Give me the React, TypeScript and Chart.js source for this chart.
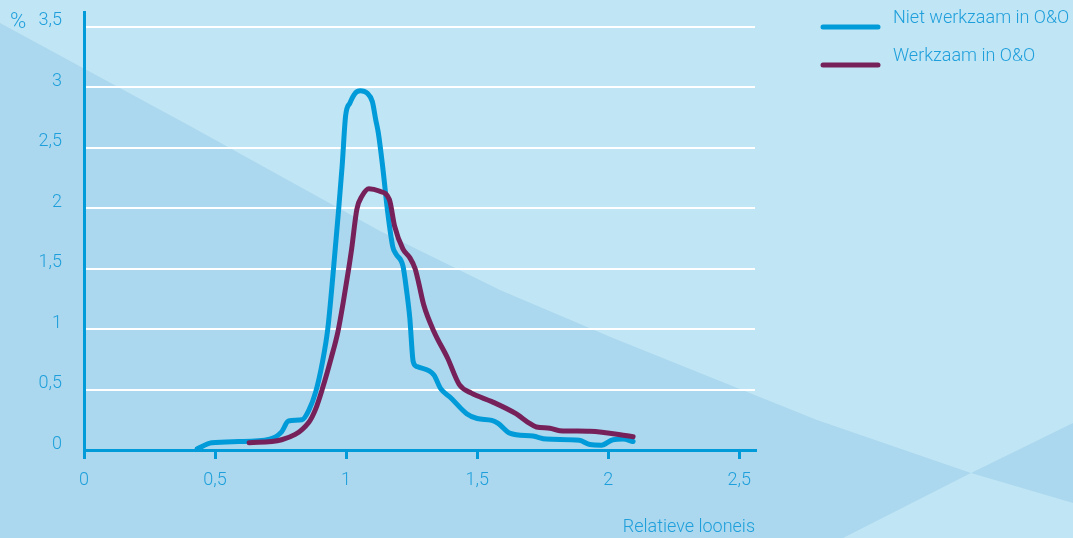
import { useEffect, useRef } from "react";
import { Chart, registerables } from "chart.js";

Chart.register(...registerables);

// ---- Data ----
const nietX = [
  0.432, 0.487, 0.59, 0.708, 0.754, 0.78, 0.832, 0.858, 0.884, 0.91, 0.93, 0.95, 0.97, 0.985, 0.998,
  1.015, 1.035, 1.054, 1.08, 1.1, 1.113, 1.123, 1.139, 1.159, 1.178, 1.19, 1.217, 1.23, 1.243, 1.256,
  1.27, 1.335, 1.36, 1.4, 1.46, 1.5, 1.556, 1.58, 1.624, 1.713, 1.764, 1.89, 1.93, 1.974, 2.018, 2.056,
  2.095,
];
const nietY = [
  0.01, 0.06, 0.07, 0.09, 0.15, 0.24, 0.25, 0.33, 0.48, 0.73, 1.0, 1.45, 1.95, 2.35, 2.76,
  2.87, 2.95, 2.97, 2.95, 2.88, 2.73, 2.62, 2.35, 1.96, 1.68, 1.62, 1.52, 1.33, 1.09, 0.73,
  0.69, 0.62, 0.51, 0.43, 0.3, 0.26, 0.245, 0.22, 0.14, 0.115, 0.09, 0.08, 0.045, 0.04, 0.085, 0.09,
  0.07,
];
const werkX = [
  0.63, 0.754, 0.858, 0.884, 0.91, 0.943, 0.969, 0.989, 1.01, 1.021, 1.041, 1.061, 1.087, 1.126, 1.165,
  1.185, 1.217, 1.243, 1.263, 1.276, 1.296, 1.335, 1.387, 1.432, 1.478, 1.556, 1.648, 1.7, 1.726, 1.777,
  1.815, 1.93, 2.095,
];
const werkY = [
  0.06, 0.085, 0.23, 0.34, 0.51, 0.76, 0.98, 1.22, 1.5, 1.66, 1.99, 2.1, 2.16, 2.14, 2.07,
  1.85, 1.66, 1.59, 1.5, 1.39, 1.2, 0.98, 0.76, 0.54, 0.47, 0.4, 0.3, 0.22, 0.19, 0.18,
  0.16, 0.155, 0.11,
];
const seriesLabels = ["Niet werkzaam in O&O", "Werkzaam in O&O"];
const yUnit = "%";
const xTitle = "Relatieve looneis";

// ---- Styles ----
const BLUE = "#009bd8";
const PURPLE = "#76215a";
const TEXT = "#1e9fdb";
const LIGHT = "#c0e5f5";
const DARK = "#abd8ee";
const FAMILY = "Roboto";
const tickFont = { family: FAMILY, size: 18, weight: "300" as const };

const fmt = (v: number | string) => String(Number(v)).replace(".", ",");

// background shapes (pixel positions on the 1073x538 canvas, scaled to size)
const shapeA = [
  [0, 23], [190, 126], [380, 231], [500, 290], [613, 338], [700, 373], [817, 420], [971, 473], [843, 538], [0, 538],
];
const shapeB = [
  [971, 473], [1073, 423], [1073, 503],
];

export default function App() {
  const ref = useRef<HTMLCanvasElement>(null);

  useEffect(() => {
    document.body.style.margin = "0";
    const canvas = ref.current;
    if (!canvas) return;

    const bgPlugin = {
      id: "bg",
      beforeDraw(chart: any) {
        const { ctx, width, height } = chart;
        ctx.save();
        ctx.fillStyle = LIGHT;
        ctx.fillRect(0, 0, width, height);
        ctx.fillStyle = DARK;
        for (const shape of [shapeA, shapeB]) {
          ctx.beginPath();
          shape.forEach(([px, py], i) => {
            const X = (px / 1073) * width;
            const Y = (py / 538) * height;
            if (i === 0) ctx.moveTo(X, Y);
            else ctx.lineTo(X, Y);
          });
          ctx.closePath();
          ctx.fill();
        }
        ctx.restore();
      },
      afterDraw(chart: any) {
        const { ctx, chartArea } = chart;
        ctx.save();
        ctx.fillStyle = TEXT;
        ctx.textBaseline = "middle";
        ctx.textAlign = "left";
        ctx.font = `300 22px ${FAMILY}`;
        ctx.fillText(yUnit, 10, 22);
        // legend
        ctx.font = `300 18px ${FAMILY}`;
        const lx = chartArea.right + 68;
        chart.data.datasets.forEach((ds: any, i: number) => {
          const ly = 27 + i * 38;
          ctx.strokeStyle = ds.borderColor;
          ctx.lineWidth = 5;
          ctx.lineCap = "round";
          ctx.beginPath();
          ctx.moveTo(lx, ly);
          ctx.lineTo(lx + 55, ly);
          ctx.stroke();
          ctx.fillStyle = TEXT;
          ctx.fillText(ds.label, lx + 70, ly - 9);
        });
        ctx.restore();
      },
    };

    const chart = new Chart(canvas, {
      type: "line",
      data: {
        datasets: [
          {
            label: seriesLabels[0],
            data: nietX.map((x, i) => ({ x, y: nietY[i] })),
            borderColor: BLUE,
            backgroundColor: BLUE,
            borderWidth: 5,
            pointRadius: 0,
            cubicInterpolationMode: "monotone",
            borderCapStyle: "round",
            borderJoinStyle: "round",
            order: 2,
          },
          {
            label: seriesLabels[1],
            data: werkX.map((x, i) => ({ x, y: werkY[i] })),
            borderColor: PURPLE,
            backgroundColor: PURPLE,
            borderWidth: 5,
            pointRadius: 0,
            cubicInterpolationMode: "monotone",
            borderCapStyle: "round",
            borderJoinStyle: "round",
            order: 1,
          },
        ],
      },
      options: {
        animation: false,
        responsive: false,
        layout: { padding: { top: 12, right: 318, left: 0, bottom: 0 } },
        plugins: { legend: { display: false }, tooltip: { enabled: false } },
        scales: {
          x: {
            type: "linear",
            min: 0,
            max: 2.56,
            afterFit: (s: any) => {
              s.height = 88;
              s.paddingLeft = 0;
              s.paddingRight = 0;
            },
            ticks: {
              stepSize: 0.5,
              includeBounds: false,
              color: TEXT,
              font: tickFont,
              padding: 11,
              maxRotation: 0,
              callback: (v: any) => fmt(v),
            },
            grid: {
              drawOnChartArea: false,
              drawTicks: true,
              tickLength: 9,
              color: BLUE,
              tickWidth: 3,
              lineWidth: 3,
            },
            border: { color: BLUE, width: 3 },
            title: {
              display: true,
              text: xTitle,
              align: "end",
              color: TEXT,
              font: tickFont,
              padding: { top: 0, bottom: 0 },
            },
          },
          y: {
            type: "linear",
            min: 0,
            max: 3.62,
            afterFit: (s: any) => {
              s.width = 84;
              s.paddingTop = 0;
              s.paddingBottom = 0;
            },
            ticks: {
              stepSize: 0.5,
              includeBounds: false,
              color: TEXT,
              font: tickFont,
              padding: 22,
              labelOffset: -6,
              callback: (v: any) => fmt(v),
            },
            grid: {
              drawTicks: false,
              lineWidth: 2,
              color: (c: any) => (c.tick && c.tick.value === 0 ? "rgba(0,0,0,0)" : "#ffffff"),
            },
            border: { color: BLUE, width: 3 },
          },
        },
      },
      plugins: [bgPlugin],
    } as any);

    return () => chart.destroy();
  }, []);

  return (
    <div style={{ width: 1073, height: 538 }}>
      <canvas ref={ref} width={1073} height={538} style={{ display: "block" }} />
    </div>
  );
}
